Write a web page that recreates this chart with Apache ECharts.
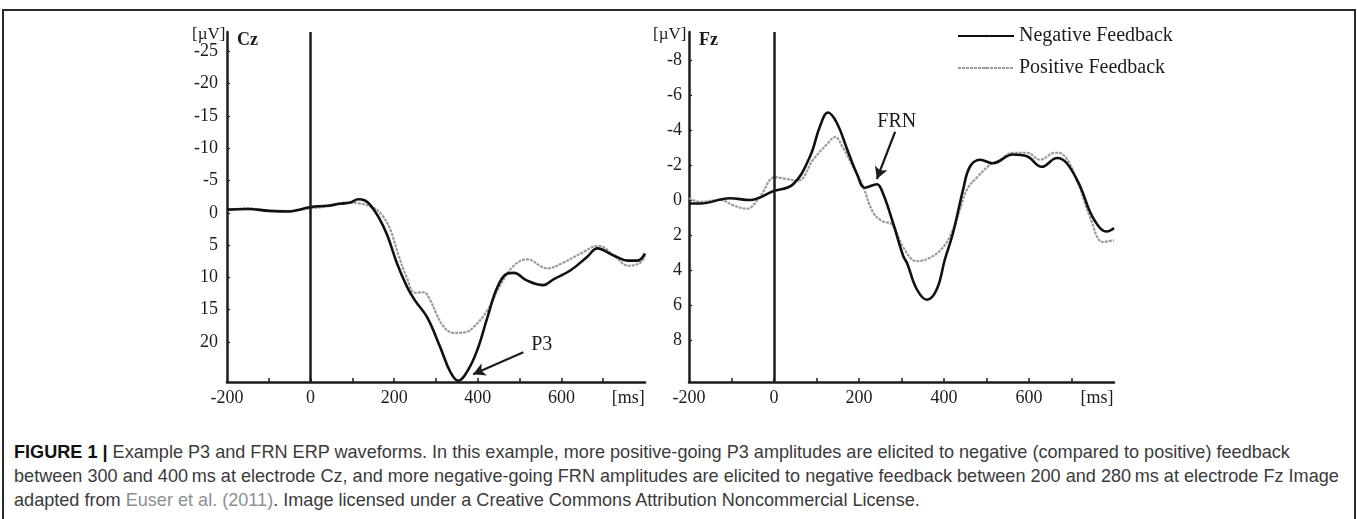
<!DOCTYPE html>
<html>
<head>
<meta charset="utf-8">
<script src="https://cdn.jsdelivr.net/npm/echarts@6/dist/echarts.min.js"></script>
<style>
  body { margin: 0; background: #fff; }
  #wrap { position: relative; width: 1357px; height: 519px; overflow: hidden; }
  #frame {
    position: absolute; left: 2px; top: 9px; width: 1354px; height: 530px;
    border: 2px solid #2a2a2a; border-bottom: none; box-sizing: border-box;
  }
  #chart { position: absolute; left: 0; top: 0; width: 1357px; height: 415px; }
  #caption {
    position: absolute; left: 14px; top: 440px;
    font-family: "Liberation Sans", Arial, sans-serif; font-size: 18.1px;
    line-height: 24px; color: #3a3a3a; white-space: nowrap;
  }
  #caption b { color: #111; }
  #caption .ref { color: #8b8f94; }
</style>
</head>
<body>
<div id="wrap">
  <div id="frame"></div>
  <div id="chart"></div>
  <div id="caption">
    <div><b>FIGURE 1 |</b> Example P3 and FRN ERP waveforms. In this example, more positive-going P3 amplitudes are elicited to negative (compared to positive) feedback</div>
    <div>between 300 and 400&#8201;ms at electrode Cz, and more negative-going FRN amplitudes are elicited to negative feedback between 200 and 280&#8201;ms at electrode Fz Image</div>
    <div>adapted from <span class="ref">Euser et al. (2011)</span>. Image licensed under a Creative Commons Attribution Noncommercial License.</div>
  </div>
</div>
<script>
// Cz (left panel), time in ms, amplitude in µV
const czNegTime = [-200, -150, -100, -50, -20, 0, 40, 71, 95, 114, 130, 143, 162, 183, 207, 231, 250, 279, 310, 334, 353, 377, 399, 423, 447, 471, 486, 518, 557, 581, 622, 662, 686, 725, 758, 782, 800];
const czNegValue = [-0.5, -0.6, -0.3, -0.2, -0.6, -0.9, -1.1, -1.4, -1.6, -2.1, -1.9, -1.2, 0.6, 3.4, 7.9, 11.5, 13.6, 16.2, 20.8, 24.6, 26.0, 24.3, 21.2, 16.2, 11.5, 9.4, 9.3, 10.5, 11.2, 10.3, 8.9, 6.8, 5.5, 6.6, 7.4, 7.4, 6.3];
const czPosTime = [-200, -150, -100, -50, 0, 40, 71, 95, 114, 150, 170, 190, 210, 230, 250, 270, 286, 300, 318, 342, 370, 390, 423, 454, 486, 518, 566, 605, 646, 689, 725, 761, 789, 800];
const czPosValue = [-0.4, -0.7, -0.3, -0.3, -0.7, -1.0, -1.5, -1.6, -1.5, -0.8, 0.3, 2.5, 6.5, 10.0, 12.4, 12.3, 13.5, 15.5, 17.6, 18.6, 18.5, 17.7, 15.1, 11.2, 8.2, 7.2, 8.6, 7.7, 6.3, 5.1, 6.6, 8.2, 7.7, 6.6];

// Fz (right panel)
const fzNegTime = [-200, -174, -104, -57, -2, 45, 85, 108, 127, 148, 172, 195, 214, 242, 256, 280, 304, 313, 336, 360, 383, 402, 421, 445, 461, 485, 515, 562, 595, 630, 666, 689, 720, 744, 767, 783, 800];
const fzNegValue = [0.2, 0.2, -0.1, 0.0, -0.5, -0.9, -2.5, -4.2, -5.0, -4.4, -2.9, -1.5, -0.7, -0.9, -0.4, 1.3, 3.2, 3.6, 5.1, 5.7, 5.1, 3.4, 1.9, -0.6, -1.9, -2.3, -2.1, -2.6, -2.5, -1.9, -2.4, -2.1, -0.8, 0.7, 1.6, 1.8, 1.6];
const fzPosTime = [-200, -174, -127, -96, -64, -33, 2, 30, 57, 92, 125, 144, 162, 186, 209, 233, 254, 278, 304, 336, 367, 398, 421, 437, 454, 478, 508, 532, 562, 595, 626, 661, 680, 713, 744, 774, 800];
const fzPosValue = [-0.1, 0.1, 0.0, 0.3, 0.5, -0.2, -1.3, -1.2, -1.1, -2.3, -3.2, -3.6, -3.0, -1.9, -0.8, 0.7, 1.2, 1.4, 2.7, 3.5, 3.3, 2.7, 1.7, 0.6, -0.6, -1.3, -2.0, -2.3, -2.7, -2.7, -2.3, -2.7, -2.6, -1.1, 1.0, 2.4, 2.3];

// axis ticks / labels
const xTickValues = [-100, 0, 100, 200, 300, 400, 500, 600, 700];
const xLabelValues = [-200, 0, 200, 400, 600, 760];
const czLabelValues = [-25, -20, -15, -10, -5, 0, 5, 10, 15, 20];
const fzLabelValues = [-8, -6, -4, -2, 0, 2, 4, 6, 8];

const seriesNames = ["Negative Feedback", "Positive Feedback"];

const serif = "Liberation Serif";
const ink = "#1c1c1c";

function pairs(t, v) {
  return t.map((x, i) => [x, v[i]]);
}

function makeXAxis(gridIndex) {
  return {
    type: "value",
    gridIndex: gridIndex,
    min: -200,
    max: 800,
    splitLine: { show: false },
    axisLine: { onZero: false, lineStyle: { color: ink, width: 2.5 } },
    axisTick: { inside: true, length: 4, customValues: xTickValues, lineStyle: { color: ink, width: 1.5 } },
    axisLabel: {
      customValues: xLabelValues,
      margin: 7,
      fontFamily: serif,
      fontSize: 18,
      color: ink,
      formatter: (v) => (v === 760 ? "[ms]" : String(v)),
    },
  };
}

function makeYAxis(gridIndex, min, max, labels, margin) {
  return {
    type: "value",
    gridIndex: gridIndex,
    inverse: true,
    min: min,
    max: max,
    splitLine: { show: false },
    axisLine: { onZero: false, lineStyle: { color: ink, width: 2.5 } },
    axisTick: { inside: true, length: 3, customValues: labels, lineStyle: { color: ink, width: 1.2 } },
    axisLabel: { customValues: labels, margin: margin, fontFamily: serif, fontSize: 18, color: ink },
  };
}

const negLine = { color: "#111", width: 2.6 };
const posLine = { color: "#9c9c9c", width: 2.2, type: [3, 1] };

const zeroMark = {
  silent: true,
  symbol: "none",
  label: { show: false },
  lineStyle: { color: ink, width: 2.5, type: "solid" },
  data: [{ xAxis: 0 }],
};

function arrowMark(from, to) {
  return {
    silent: true,
    symbol: ["none", "arrow"],
    symbolSize: [10, 12],
    label: { show: false },
    lineStyle: { color: ink, width: 2.2, type: "solid" },
    data: [[{ coord: from }, { coord: to }]],
  };
}

function textMark(coord, text) {
  return {
    silent: true,
    symbol: "circle",
    symbolSize: 0,
    label: { show: true, position: "inside", formatter: text, fontFamily: serif, fontSize: 20, color: ink },
    data: [{ coord: coord }],
  };
}

const chart = echarts.init(document.getElementById("chart"));

const option = {
  animation: false,
  legend: {
    orient: "vertical",
    left: 952,
    top: 21,
    itemWidth: 56,
    itemHeight: 3,
    itemGap: 12,
    data: seriesNames,
    itemStyle: { borderWidth: 0 },
    textStyle: { fontFamily: serif, fontSize: 20, color: ink },
  },
  grid: [
    { left: 227, top: 32, width: 418, height: 350 },
    { left: 689, top: 32, width: 425, height: 350 },
  ],
  xAxis: [makeXAxis(0), makeXAxis(1)],
  yAxis: [
    makeYAxis(0, -28, 26.2, czLabelValues, 9),
    makeYAxis(1, -9.6, 10.4, fzLabelValues, 7),
  ],
  graphic: [
    { type: "text", left: 192, top: 26, style: { text: "[µV]", font: "17px 'Liberation Serif'", fill: ink } },
    { type: "text", left: 237, top: 31, style: { text: "Cz", font: "bold 18px 'Liberation Serif'", fill: ink } },
    { type: "text", left: 653, top: 26, style: { text: "[µV]", font: "17px 'Liberation Serif'", fill: ink } },
    { type: "text", left: 699, top: 31, style: { text: "Fz", font: "bold 18px 'Liberation Serif'", fill: ink } },
  ],
  series: [
    {
      name: seriesNames[1], type: "line", xAxisIndex: 0, yAxisIndex: 0,
      showSymbol: false, symbol: "none", smooth: 0.4, lineStyle: posLine, itemStyle: { color: posLine.color },
      data: pairs(czPosTime, czPosValue),
      markLine: arrowMark([509, 21.6], [389, 25.0]),
      markPoint: textMark([553, 20.4], "P3"),
    },
    {
      name: seriesNames[0], type: "line", xAxisIndex: 0, yAxisIndex: 0,
      showSymbol: false, symbol: "none", smooth: 0.4, lineStyle: negLine, itemStyle: { color: negLine.color },
      data: pairs(czNegTime, czNegValue),
      markLine: zeroMark,
    },
    {
      name: seriesNames[1], type: "line", xAxisIndex: 1, yAxisIndex: 1,
      showSymbol: false, symbol: "none", smooth: 0.4, lineStyle: posLine, itemStyle: { color: posLine.color },
      data: pairs(fzPosTime, fzPosValue),
      markLine: arrowMark([285, -3.9], [242, -1.2]),
      markPoint: textMark([289, -4.5], "FRN"),
    },
    {
      name: seriesNames[0], type: "line", xAxisIndex: 1, yAxisIndex: 1,
      showSymbol: false, symbol: "none", smooth: 0.4, lineStyle: negLine, itemStyle: { color: negLine.color },
      data: pairs(fzNegTime, fzNegValue),
      markLine: zeroMark,
    },
  ],
};

chart.setOption(option);
</script>
</body>
</html>
